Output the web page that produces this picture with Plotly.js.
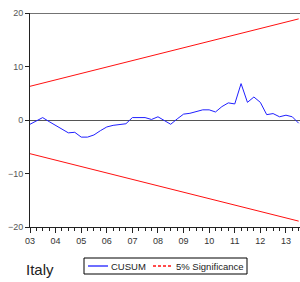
<!DOCTYPE html>
<html><head><meta charset="utf-8">
<script src="https://cdn.plot.ly/plotly-3.0.1.min.js"></script>
<style>html,body{margin:0;padding:0;background:#fff}#chart{width:300px;height:282px}</style>
</head><body><div id="chart"></div>
<script>
// Quarterly periods 2003Q1 .. 2013Q3
const quarters = ["2003-01-01","2003-04-01","2003-07-01","2003-10-01","2004-01-01","2004-04-01","2004-07-01","2004-10-01",
"2005-01-01","2005-04-01","2005-07-01","2005-10-01","2006-01-01","2006-04-01","2006-07-01","2006-10-01",
"2007-01-01","2007-04-01","2007-07-01","2007-10-01","2008-01-01","2008-04-01","2008-07-01","2008-10-01",
"2009-01-01","2009-04-01","2009-07-01","2009-10-01","2010-01-01","2010-04-01","2010-07-01","2010-10-01",
"2011-01-01","2011-04-01","2011-07-01","2011-10-01","2012-01-01","2012-04-01","2012-07-01","2012-10-01",
"2013-01-01","2013-04-01","2013-07-01"];
const cusum = [-0.8,-0.1,0.45,-0.3,-1.0,-1.7,-2.4,-2.3,
-3.2,-3.2,-2.8,-2.0,-1.3,-1.0,-0.8,-0.7,
0.45,0.45,0.45,0.1,0.6,-0.1,-0.8,0.2,
1.1,1.25,1.6,1.9,1.9,1.5,2.5,3.2,
3.0,6.8,3.3,4.3,3.3,1.0,1.2,0.6,
0.9,0.6,-0.6];
const boundStart = 6.3;   // upper 5% bound at first period
const boundEnd = 18.9;    // upper 5% bound at last period
const yTicks = [-20,-10,0,10,20];
const seriesNames = ["CUSUM","5% Significance"];

const xEnds = [quarters[0], quarters[quarters.length-1]];
const blue = '#2020ff', red = '#ff1010';

const traces = [
  {x: quarters, y: cusum, type:'scatter', mode:'lines', name:seriesNames[0],
   line:{color:blue, width:1}},
  {x: xEnds, y:[boundStart, boundEnd], type:'scatter', mode:'lines', name:seriesNames[1],
   line:{color:red, width:1}},
  {x: xEnds, y:[-boundStart, -boundEnd], type:'scatter', mode:'lines', name:seriesNames[1],
   line:{color:red, width:1}}
];

// paper-coordinate helpers (plot area: x 30..300 px, y 13..227 px)
const px = v => (v-30)/270, py = v => (227-v)/214;

const layout = {
  width:300, height:282,
  margin:{l:30, r:0, t:13, b:55},
  paper_bgcolor:'#fff', plot_bgcolor:'#fff',
  font:{family:'Liberation Sans, Arial, sans-serif', size:9, color:'#333'},
  showlegend:false,
  xaxis:{type:'date', range:['2003-01-01','2013-07-20'], tick0:'2003-01-01', dtick:'M12', tickformat:'%y',
    ticks:'outside', ticklen:5, tickcolor:'#222', showgrid:false, zeroline:false,
    showline:true, linecolor:'#222', linewidth:1,
    minor:{dtick:'M3', tick0:'2003-01-01', ticks:'outside', ticklen:3, tickcolor:'#222', showgrid:false},
    tickfont:{size:9, color:'#333'}, fixedrange:true},
  yaxis:{range:[-20,20], tickmode:'array', tickvals:yTicks, ticks:'outside', ticklen:4,
    tickcolor:'#222', showgrid:false, zeroline:true, zerolinecolor:'#555', zerolinewidth:1,
    showline:true, linecolor:'#222', linewidth:1, tickfont:{size:9, color:'#555'}, fixedrange:true},
  shapes:[
    {type:'line', xref:'paper', yref:'y', x0:0, x1:1, y0:20, y1:20, line:{color:'#444', width:1.5}},
    // legend box and samples
    {type:'rect', xref:'paper', yref:'paper', x0:px(84), x1:px(247), y0:py(258), y1:py(274),
     line:{color:'#000', width:1}, fillcolor:'#fff'},
    {type:'line', xref:'paper', yref:'paper', x0:px(88), x1:px(108), y0:py(266), y1:py(266),
     line:{color:blue, width:1.3}},
    {type:'line', xref:'paper', yref:'paper', x0:px(153), x1:px(172), y0:py(266), y1:py(266),
     line:{color:red, width:1.3, dash:'3px,2px'}}
  ],
  annotations:[
    {text:'Italy', xref:'paper', yref:'paper', x:px(24), y:py(269), xanchor:'left', yanchor:'middle',
     showarrow:false, font:{size:15, color:'#222', family:'Liberation Sans, Arial, sans-serif'}},
    {text:seriesNames[0], xref:'paper', yref:'paper', x:px(109), y:py(266), xanchor:'left', yanchor:'middle',
     showarrow:false, font:{size:9.5, color:'#222'}},
    {text:seriesNames[1], xref:'paper', yref:'paper', x:px(174), y:py(266), xanchor:'left', yanchor:'middle',
     showarrow:false, font:{size:9.5, color:'#222'}}
  ]
};
Plotly.newPlot('chart', traces, layout, {displayModeBar:false, staticPlot:true});
</script></body></html>
